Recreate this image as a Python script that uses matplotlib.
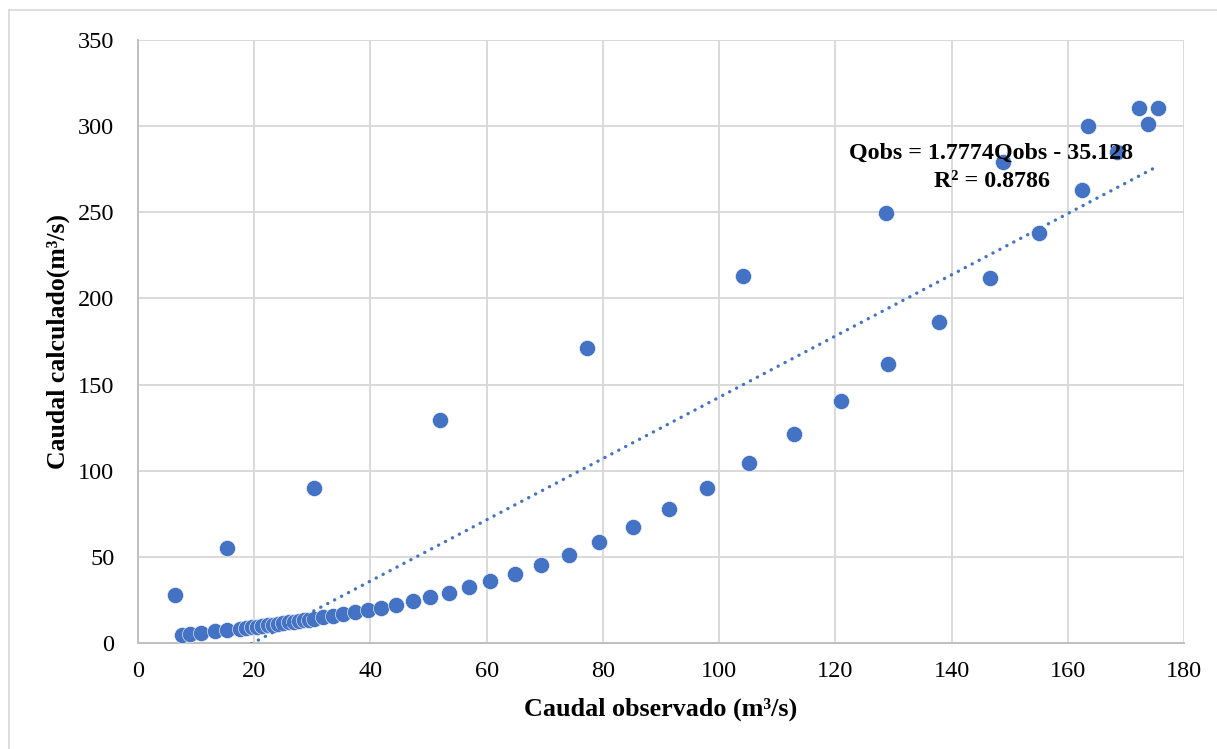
import matplotlib
matplotlib.use("Agg")
import matplotlib.pyplot as plt
from matplotlib.lines import Line2D
import numpy as np

# Observed vs. calculated discharge (m³/s)
caudal_observado = [
    6.4, 7.5, 8.9, 10.9, 13.2, 15.3, 15.4, 17.5, 18.6, 19.6, 20.5, 21.4, 22.3,
    23.2, 24.1, 25.0, 25.9, 26.8, 27.7, 28.6, 29.5, 30.3, 30.3, 31.9, 33.6,
    35.3, 37.3, 39.6, 41.9, 44.4, 47.3, 50.2, 51.9, 53.5, 57.0, 60.6, 64.8,
    69.4, 74.1, 77.3, 79.4, 85.2, 91.4, 98.0, 104.1, 105.1, 112.9, 121.0,
    128.8, 129.1, 137.9, 146.6, 148.8, 155.1, 162.4, 163.4, 168.4, 172.3,
    173.8, 175.5,
]
caudal_calculado = [
    27.9, 4.6, 5.4, 6.0, 6.9, 55.0, 7.6, 8.3, 8.7, 9.1, 9.5, 9.9, 10.3,
    10.7, 11.1, 11.5, 11.9, 12.3, 12.8, 13.2, 13.6, 89.8, 14.0, 14.9, 15.7,
    16.9, 18.0, 19.2, 20.5, 22.3, 24.6, 26.8, 129.4, 29.2, 32.3, 36.0, 40.2,
    45.4, 51.3, 171.5, 58.5, 67.3, 77.5, 90.0, 212.8, 104.3, 121.1, 140.4,
    249.5, 162.0, 186.3, 211.8, 279.0, 238.0, 262.9, 300.1, 285.2, 310.3,
    301.2, 310.3,
]

# Linear trendline coefficients
pendiente = 1.7774
intercepto = -35.128
r2 = 0.8786

x_ticks = [0, 20, 40, 60, 80, 100, 120, 140, 160, 180]
y_ticks = [0, 50, 100, 150, 200, 250, 300, 350]

azul = "#4472C4"
serif = ["Liberation Serif", "DejaVu Serif"]

fig = plt.figure(figsize=(12.17, 7.49), dpi=100)
ax = fig.add_axes([138 / 1217, 1 - 643 / 749, (1184 - 138) / 1217, (643 - 40) / 749])

ax.scatter(caudal_observado, caudal_calculado, s=135, color=azul,
           edgecolors="white", linewidths=0.4, zorder=3)

xt = np.array([min(caudal_observado), max(caudal_observado)])
ax.plot(xt, pendiente * xt + intercepto, color=azul, lw=2.4,
        linestyle=(0, (0.05, 2.3)), dash_capstyle="round",
        solid_capstyle="round", zorder=4)

ax.set_xlim(0, 180)
ax.set_ylim(0, 350)
ax.set_xticks(x_ticks)
ax.set_yticks(y_ticks)
ax.grid(True, color="#D9D9D9", linewidth=1.4, zorder=0)
ax.set_axisbelow(True)
for side in ("top", "right"):
    ax.spines[side].set_visible(False)
for side in ("left", "bottom"):
    ax.spines[side].set_color("#BFBFBF")
    ax.spines[side].set_linewidth(1.4)
ax.tick_params(length=0, labelsize=17.5)
for lab in ax.get_xticklabels() + ax.get_yticklabels():
    lab.set_family(serif)
ax.tick_params(axis="x", pad=13)
ax.tick_params(axis="y", pad=17)

ax.set_xlabel("Caudal observado (m³/s)", fontsize=18.8, fontweight="bold",
              family=serif, labelpad=11)
ax.set_ylabel("Caudal calculado(m³/s)", fontsize=18.5, fontweight="bold",
              family=serif, labelpad=6)

ax.text(146.8, 284.5, f"Qobs = {pendiente}Qobs - {abs(intercepto)}",
        ha="center", va="center", fontsize=17.3, fontweight="bold",
        family=serif, zorder=5)
ax.text(147.0, 268.0, f"R² = {r2}", ha="center", va="center",
        fontsize=17.3, fontweight="bold", family=serif, zorder=5)

# Light frame around the chart area
fig.add_artist(Line2D([9 / 1217, 9 / 1217], [0, 1 - 10 / 749],
                      transform=fig.transFigure, color="#D9D9D9", lw=1.2))
fig.add_artist(Line2D([9 / 1217, 1], [1 - 10 / 749, 1 - 10 / 749],
                      transform=fig.transFigure, color="#D9D9D9", lw=1.2))

fig.savefig("out.png", dpi=100, facecolor="white")
